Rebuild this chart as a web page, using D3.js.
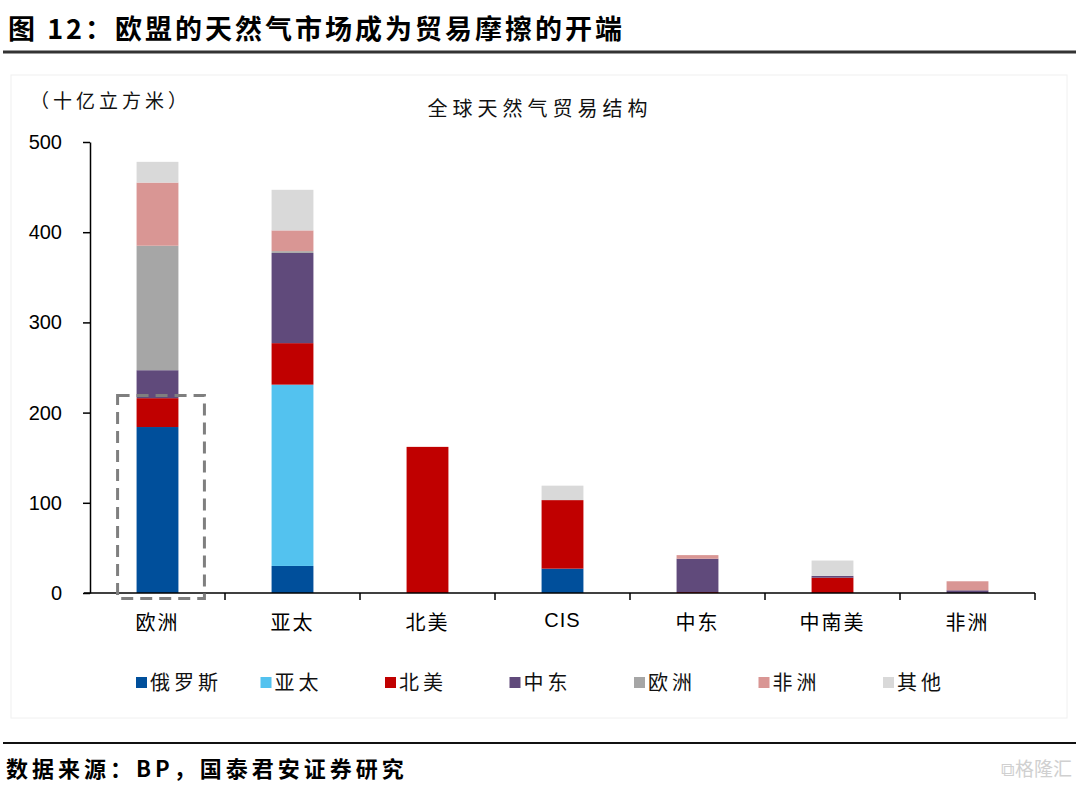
<!DOCTYPE html>
<html><head><meta charset="utf-8">
<script src="https://cdn.jsdelivr.net/npm/d3@7/dist/d3.min.js"></script>
<style>
body{margin:0;background:#fff;}
svg{display:block;}
</style></head>
<body>
<svg id="c" width="1080" height="788"></svg>
<script>
const categories = ["欧洲","亚太","北美","CIS","中东","中南美","非洲"];
const seriesNames = ["俄罗斯","亚太","北美","中东","欧洲","非洲","其他"];
const russia   = [184, 30,   0, 27,  0,  0,  0];
const asiaPac  = [  0, 201,  0,  0,  0,  0,  0];
const northAm  = [ 32, 46, 162, 76,  1, 17,  0];
const midEast  = [ 31, 100,  0,  0, 37,  2,  3];
const europe   = [138,  2,   0,  0,  0,  0,  0];
const africa   = [ 70, 23,   0,  0,  4,  0, 10];
const others   = [ 23, 45,   0, 16,  0, 17,  0];
const yTicks = [0,100,200,300,400,500];
const highlight = {category:"欧洲", from:-6, to:219};
const colors = ["#004f9b","#53c2ef","#c00000","#604a7b","#a6a6a6","#d99694","#d9d9d9"];

const seriesValues = [russia, asiaPac, northAm, midEast, europe, africa, others];
const table = categories.map((c,i)=>{
  const o = {cat:c};
  seriesNames.forEach((s,j)=>o[s]=seriesValues[j][i]);
  return o;
});

const svg = d3.select("#c");
const cjk = "'Noto Sans CJK SC','Noto Sans CJK JP',sans-serif";
const latin = "'Liberation Sans',Arial,sans-serif";

// header
svg.append("text").attr("x",8).attr("y",39).attr("font-family",cjk).attr("font-weight",700)
  .attr("font-size",27).attr("letter-spacing",3).attr("fill","#000").text("图 12：欧盟的天然气市场成为贸易摩擦的开端");
svg.append("line").attr("x1",3).attr("x2",1076).attr("y1",52).attr("y2",52).attr("stroke","#333").attr("stroke-width",3);

// faint frame
svg.append("rect").attr("x",11).attr("y",75).attr("width",1056).attr("height",643)
  .attr("fill","none").attr("stroke","#f0f0f0").attr("stroke-width",1);

// footer
svg.append("line").attr("x1",3).attr("x2",1076).attr("y1",743).attr("y2",743).attr("stroke","#111").attr("stroke-width",2);
svg.append("text").attr("x",6).attr("y",777).attr("font-family",cjk).attr("font-weight",700)
  .attr("font-size",22).attr("letter-spacing",4).attr("fill","#000").text("数据来源：BP，国泰君安证券研究");
svg.append("text").attr("x",1072).attr("y",776).attr("text-anchor","end").attr("font-family",cjk)
  .attr("font-size",19).attr("fill","#d0d0d0").text("⧉格隆汇");

const x = d3.scaleBand().domain(categories).range([90,1035]).paddingInner(0.69).paddingOuter(0.345);
const y = d3.scaleLinear().domain([0,500]).range([593,142]);

const stack = d3.stack().keys(seriesNames)(table);
svg.append("g").selectAll("g").data(stack).join("g").attr("fill",(d,i)=>colors[i])
  .selectAll("rect").data(d=>d).join("rect")
  .attr("x",d=>x(d.data.cat)).attr("width",x.bandwidth())
  .attr("y",d=>y(d[1])).attr("height",d=>Math.max(0,y(d[0])-y(d[1])));

// axes
const yAxis = svg.append("g").attr("transform","translate(90,0)")
  .call(d3.axisLeft(y).tickValues(yTicks).tickSize(7).tickPadding(21).tickSizeOuter(0));
yAxis.select(".domain").attr("stroke","#000").attr("stroke-width",1.5);
yAxis.selectAll(".tick line").attr("stroke","#000").attr("stroke-width",1.5);
yAxis.selectAll("text").attr("font-family",latin).attr("font-size",20).attr("fill","#000");

const xb = d3.scaleLinear().domain([0,categories.length]).range([90,1035]);
const xAxis = svg.append("g").attr("transform","translate(0,593)");
xAxis.append("line").attr("x1",xb(0)-6).attr("x2",xb(categories.length)).attr("stroke","#000").attr("stroke-width",1.5);
xAxis.selectAll("line.t").data(d3.range(1,categories.length+1)).join("line").attr("class","t")
  .attr("x1",d=>xb(d)).attr("x2",d=>xb(d)).attr("y1",0).attr("y2",7).attr("stroke","#000").attr("stroke-width",1.5);
xAxis.selectAll("text").data(categories).join("text")
  .attr("x",d=>x(d)+x.bandwidth()/2).attr("y",37).attr("text-anchor","middle")
  .attr("font-family",d=>d==="CIS"?latin:cjk).attr("font-size",20).attr("fill","#000")
  .attr("letter-spacing",d=>d==="CIS"?1:2)
  .attr("dy",d=>d==="CIS"?-3:0)
  .text(d=>d);

// highlight dashed box
const hx = x(highlight.category) - 19;
svg.append("rect").attr("x",hx).attr("width",x.bandwidth()+45)
  .attr("y",y(highlight.to)).attr("height",y(highlight.from)-y(highlight.to))
  .attr("fill","none").attr("stroke","#7f7f7f").attr("stroke-width",3).attr("stroke-dasharray","12,7");

// labels
svg.append("text").attr("x",30).attr("y",108).attr("font-family",cjk).attr("font-size",19).attr("fill","#111")
  .attr("letter-spacing",4).text("（十亿立方米）");
svg.append("text").attr("x",540).attr("y",116).attr("text-anchor","middle").attr("font-family",cjk)
  .attr("font-size",20).attr("fill","#111").attr("letter-spacing",5).text("全球天然气贸易结构");

// legend
const lg = svg.append("g").selectAll("g").data(seriesNames).join("g")
  .attr("transform",(d,i)=>`translate(${136+i*124.5},683)`);
lg.append("rect").attr("x",0).attr("y",-6).attr("width",11).attr("height",11).attr("fill",(d,i)=>colors[i]);
lg.append("text").attr("x",14).attr("y",7).attr("font-family",cjk).attr("font-size",20).attr("fill","#111")
  .attr("letter-spacing",4).text(d=>d);
</script>
</body></html>
